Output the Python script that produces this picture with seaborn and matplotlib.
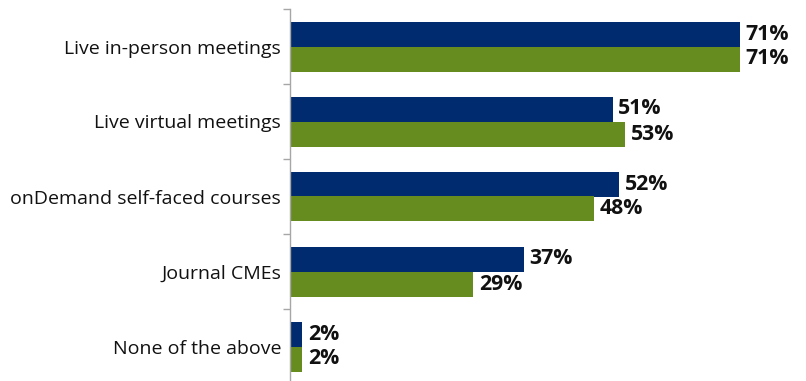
import matplotlib
matplotlib.use("Agg")
import matplotlib.pyplot as plt
import seaborn as sns
import pandas as pd
import numpy as np

categories = ["Live in-person meetings", "Live virtual meetings",
              "onDemand self-faced courses", "Journal CMEs", "None of the above"]
series_names = ["Series 1", "Series 2"]
series1 = [71, 51, 52, 37, 2]
series2 = [71, 53, 48, 29, 2]
colors = ["#002B6E", "#668B1F"]

df = pd.DataFrame({
    "category": categories * 2,
    "value": series1 + series2,
    "series": [series_names[0]] * len(categories) + [series_names[1]] * len(categories),
})

sns.set_style("white")
plt.rcParams["font.family"] = ["Open Sans", "DejaVu Sans"]

W, H = 806, 381
fig = plt.figure(figsize=(W / 100, H / 100), dpi=100)
left_px, top_px, bottom_px = 289.5, 9, 384
xmax = 80
px_per = 450 / 71
width_px = xmax * px_per
ax = fig.add_axes([left_px / W, (H - bottom_px) / H, width_px / W, (bottom_px - top_px) / H])

sns.barplot(data=df, y="category", x="value", hue="series", order=categories,
            hue_order=series_names, palette=colors, saturation=1, orient="h", width=2/3,
            gap=0, linewidth=0, ax=ax, legend=False, errorbar=None)

for cont in ax.containers:
    ax.bar_label(cont, labels=[f"{v:.0f}%" for v in cont.datavalues], padding=4,
                 fontsize=15.3, fontweight="bold", color="#111111")

ax.set_xlim(0, xmax)
ax.set_ylim(len(categories) - 0.5, -0.5)
ax.set_xlabel("")
ax.set_ylabel("")
ax.set_xticks([])
for s in ["top", "right", "bottom"]:
    ax.spines[s].set_visible(False)
ax.spines["left"].set_color("#a6a6a6")
ax.spines["left"].set_linewidth(1.0)
ax.set_yticks(np.arange(len(categories)))
ax.set_yticklabels(categories, fontsize=14.0, color="#111111")
ax.tick_params(axis="y", which="major", length=0, pad=6)
ax.set_yticks(np.arange(len(categories) + 1) - 0.5, minor=True)
ax.tick_params(axis="y", which="minor", left=True, length=5, color="#a6a6a6", width=1)

fig.savefig("out.png", dpi=100)
